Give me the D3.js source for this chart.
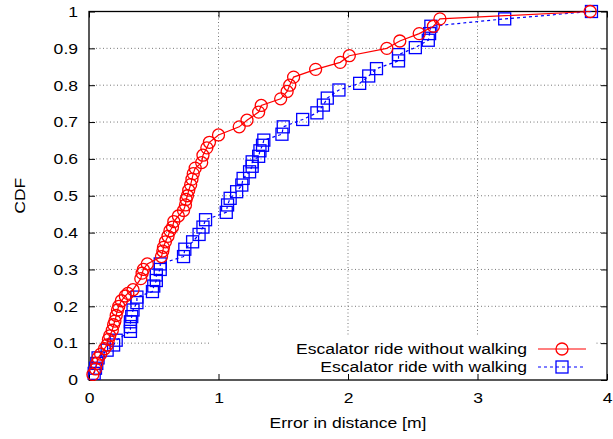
<!DOCTYPE html>
<html><head><meta charset="utf-8">
<script src="https://cdn.jsdelivr.net/npm/d3@7"></script>
<style>body{margin:0;background:#fff}svg{display:block}text{font-family:"Liberation Sans",Arial,sans-serif}</style>
</head><body><div id="chart"></div>
<script>
const xTicks = [0, 1, 2, 3, 4];
const yTicks = [0, 0.1, 0.2, 0.3, 0.4, 0.5, 0.6, 0.7, 0.8, 0.9, 1];
const seriesNames = ["Escalator ride without walking", "Escalator ride with walking"];
const xLabel = "Error in distance [m]";
const yLabel = "CDF";

const redX = [0.03,0.05,0.06,0.07,0.09,0.12,0.14,0.15,0.16,0.18,0.19,0.20,0.21,0.22,0.23,0.25,0.28,0.30,0.34,0.40,0.41,0.42,0.45,0.56,0.57,0.575,0.59,0.61,0.625,0.645,0.655,0.69,0.73,0.745,0.75,0.76,0.77,0.785,0.795,0.805,0.82,0.87,0.88,0.91,0.93,1.0,1.16,1.22,1.31,1.33,1.48,1.53,1.55,1.58,1.75,1.94,2.01,2.30,2.40,2.55,2.66,2.71,3.87];
const redY = [0.015,0.03,0.045,0.06,0.07,0.085,0.095,0.11,0.12,0.135,0.15,0.16,0.175,0.19,0.20,0.215,0.228,0.235,0.245,0.275,0.29,0.30,0.315,0.335,0.35,0.36,0.375,0.39,0.405,0.415,0.43,0.445,0.46,0.475,0.49,0.50,0.515,0.53,0.545,0.56,0.575,0.59,0.61,0.63,0.645,0.665,0.687,0.705,0.727,0.745,0.763,0.783,0.80,0.822,0.843,0.862,0.88,0.90,0.92,0.94,0.96,0.98,1.0];

const blueX = [0.04,0.05,0.06,0.07,0.14,0.19,0.21,0.32,0.32,0.32,0.33,0.34,0.37,0.37,0.49,0.50,0.52,0.52,0.55,0.55,0.73,0.74,0.80,0.85,0.88,0.90,1.06,1.07,1.09,1.14,1.18,1.19,1.24,1.26,1.26,1.31,1.32,1.34,1.35,1.49,1.50,1.65,1.76,1.81,1.84,1.93,2.09,2.16,2.22,2.39,2.39,2.52,2.62,2.63,2.64,3.21,3.88];
const blueY = [0.018,0.032,0.045,0.06,0.081,0.095,0.108,0.132,0.145,0.158,0.172,0.19,0.21,0.225,0.24,0.255,0.27,0.285,0.30,0.315,0.335,0.355,0.375,0.395,0.415,0.435,0.455,0.475,0.493,0.511,0.529,0.547,0.565,0.58,0.592,0.607,0.622,0.637,0.651,0.667,0.687,0.707,0.725,0.746,0.765,0.787,0.805,0.825,0.845,0.866,0.883,0.902,0.922,0.94,0.96,0.98,1.0];

const W = 613, H = 439;
const m = {left: 89, right: 6, top: 11.5, bottom: 59};
const x = d3.scaleLinear().domain([0, 4]).range([m.left, W - m.right]);
const y = d3.scaleLinear().domain([0, 1]).range([H - m.bottom, m.top]);
const FS = 15, SX = 1.17;

const svg = d3.select("#chart").append("svg").attr("width", W).attr("height", H);

function sText(g, tx, ty, str, anchor, rot) {
  return g.append("text")
    .attr("transform", `translate(${tx},${ty})${rot ? " rotate(" + rot + ")" : ""} scale(${SX},1)`)
    .attr("text-anchor", anchor).attr("font-size", FS).attr("fill", "#000").text(str);
}

// grid
const grid = svg.append("g").attr("stroke", "#777").attr("stroke-width", 1).attr("stroke-dasharray", "1,2.5");
grid.selectAll(".gx").data(xTicks.slice(1, -1)).join("line")
  .attr("x1", d => x(d)).attr("x2", d => x(d)).attr("y1", y(0)).attr("y2", y(1));
grid.selectAll(".gy").data(yTicks.slice(1, -1)).join("line")
  .attr("x1", x(0)).attr("x2", x(4)).attr("y1", d => y(d)).attr("y2", d => y(d));

// legend background (covers grid)
svg.append("rect").attr("x", 209).attr("y", 337).attr("width", 387).attr("height", y(0) - 337).attr("fill", "#fff");

// axes with inward ticks
const tickLen = 6;
const ax = svg.append("g").attr("transform", `translate(0,${y(0)})`)
  .call(d3.axisBottom(x).tickValues(xTicks).tickFormat(d3.format("d")).tickSizeInner(-tickLen).tickSizeOuter(0).tickPadding(12));
const axT = svg.append("g").attr("transform", `translate(0,${y(1)})`)
  .call(d3.axisTop(x).tickValues(xTicks).tickFormat("").tickSizeInner(-tickLen).tickSizeOuter(0));
const ay = svg.append("g").attr("transform", `translate(${x(0)},0)`)
  .call(d3.axisLeft(y).tickValues(yTicks).tickFormat(d => d === 0 || d === 1 ? d3.format("d")(d) : d3.format(".1f")(d)).tickSizeInner(-tickLen).tickSizeOuter(0).tickPadding(11));
const ayR = svg.append("g").attr("transform", `translate(${x(4)},0)`)
  .call(d3.axisRight(y).tickValues(yTicks).tickFormat("").tickSizeInner(-tickLen).tickSizeOuter(0));
[ax, axT, ay, ayR].forEach(g => {
  g.select(".domain").remove();
  g.selectAll("line").attr("stroke", "#000");
  g.selectAll("text").attr("font-size", FS).attr("fill", "#000").attr("font-family", '"Liberation Sans", Arial, sans-serif');
});
ax.selectAll("text").attr("transform", `scale(${SX},1)`);
ay.selectAll("text").attr("x", -11 / SX).attr("transform", `scale(${SX},1)`);

// border
svg.append("rect").attr("x", x(0)).attr("y", y(1)).attr("width", x(4) - x(0)).attr("height", y(0) - y(1))
  .attr("fill", "none").attr("stroke", "#000").attr("stroke-width", 1.3);

// labels
sText(svg, x(2), 428, xLabel, "middle");
sText(svg, 25, (y(0) + y(1)) / 2, yLabel, "middle", -90);

// series
const red = redX.map((v, i) => [v, redY[i]]);
const blue = blueX.map((v, i) => [v, blueY[i]]);
const line = d3.line().x(d => x(d[0])).y(d => y(d[1]));

svg.append("path").datum(blue).attr("d", line).attr("fill", "none").attr("stroke", "#0000ff").attr("stroke-width", 1.2).attr("stroke-dasharray", "3,3");
const sq = 12;
svg.append("g").selectAll("rect").data(blue).join("rect")
  .attr("x", d => x(d[0]) - sq / 2).attr("y", d => y(d[1]) - sq / 2).attr("width", sq).attr("height", sq)
  .attr("fill", "none").attr("stroke", "#0000ff").attr("stroke-width", 1.3);

svg.append("path").datum(red).attr("d", line).attr("fill", "none").attr("stroke", "#ff0000").attr("stroke-width", 1.2);
svg.append("g").selectAll("circle").data(red).join("circle")
  .attr("cx", d => x(d[0])).attr("cy", d => y(d[1])).attr("r", 6)
  .attr("fill", "none").attr("stroke", "#ff0000").attr("stroke-width", 1.3);

// legend
const lg = svg.append("g");
const rows = [
  {name: seriesNames[0], color: "#ff0000", dash: null, shape: "circle", yy: 349},
  {name: seriesNames[1], color: "#0000ff", dash: "3,3", shape: "square", yy: 367}
];
rows.forEach(r => {
  sText(lg, 527, r.yy + 5, r.name, "end");
  lg.append("line").attr("x1", 538).attr("x2", 586).attr("y1", r.yy).attr("y2", r.yy)
    .attr("stroke", r.color).attr("stroke-width", 1.2).attr("stroke-dasharray", r.dash);
  if (r.shape === "circle") {
    lg.append("circle").attr("cx", 562).attr("cy", r.yy).attr("r", 6).attr("fill", "none").attr("stroke", r.color).attr("stroke-width", 1.3);
  } else {
    lg.append("rect").attr("x", 562 - sq / 2).attr("y", r.yy - sq / 2).attr("width", sq).attr("height", sq).attr("fill", "none").attr("stroke", r.color).attr("stroke-width", 1.3);
  }
});
</script></body></html>
